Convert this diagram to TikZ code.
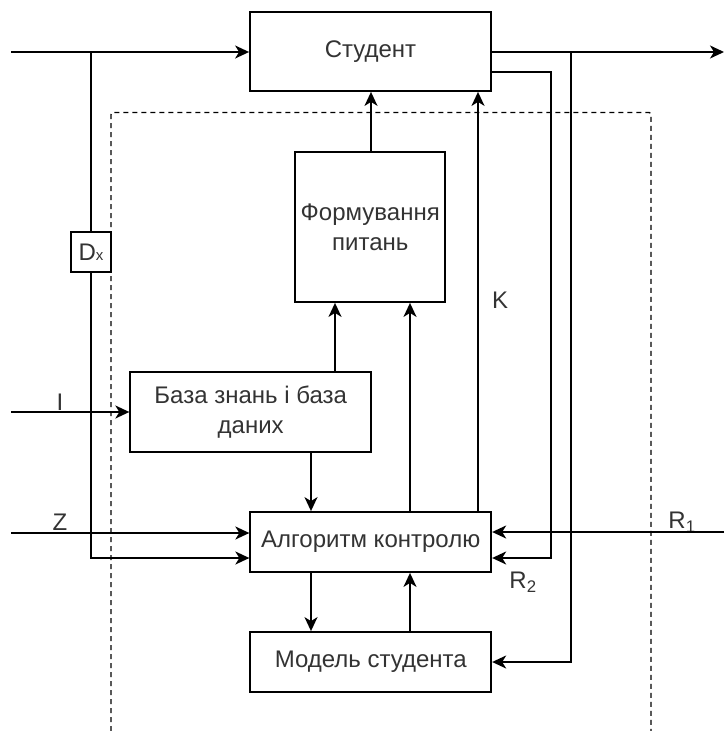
\documentclass[tikz,border=0pt]{standalone}
\usepackage{fontspec}
\setmainfont{Liberation Sans}
\usetikzlibrary{arrows.meta}
\begin{document}
\begin{tikzpicture}
  [x=1pt,y=-1pt,line width=1.8pt,>={Stealth[length=14pt,width=13pt,inset=4pt]},
   every node/.style={font=\fontsize{24}{30}\selectfont,text=black!80,inner sep=0pt},
   bloque/.style={draw=black,fill=white,line width=1.8pt,align=center,minimum width=241pt,minimum height=60pt}]

  \useasboundingbox (0,0) rectangle (724,731);

  % Contorno discontinuo del sistema
  \draw[line width=1.4pt,dash pattern=on 5pt off 4pt,rounded corners=2pt]
    (111,731) -- (111,112.5) -- (651,112.5) -- (651,731);

  % Bloques
  \node[bloque,minimum height=79pt] (est) at (370.5,51.5) {Студент};
  \node[bloque,minimum width=150pt,minimum height=150pt] (form) at (370.25,227) {Формування\\питань};
  \node[bloque,minimum height=80pt] (base) at (250.75,412) {База знань і база\\даних};
  \node[bloque] (alg) at (370.75,542) {Алгоритм контролю};
  \node[bloque] (mod) at (370.75,662) {Модель студента};
  \node[bloque,minimum width=40pt,minimum height=40pt] (dx) at (91,252) {D{\fontsize{15}{15}\selectfont x}};

  % Entradas, salidas y nudos
  \coordinate (inEst) at (11,52);
  \coordinate (outEst) at (724,52);
  \coordinate (nudo) at (91,52);
  \coordinate (nudoM) at (571,52);
  \coordinate (inI) at (11,412);
  \coordinate (inZ) at (11,533);
  \coordinate (inR) at (724,532);
  \coordinate (r2) at (551,72);
  \coordinate (yDx) at (0,558);

  % Etiquetas
  \node (li) at (60,402) {I};
  \node (lz) at (60,522) {Z};
  \node (lk) at (500,300) {K};
  \node (lr1) at (682,522) {R\textsubscript{1}};
  \node (lr2) at (523,582) {R\textsubscript{2}};

  % Flechas horizontales
  \draw[->] (inEst) -- (inEst -| est.west);
  \draw[->] (est.east |- outEst) -- (outEst);
  \draw[->] (inI) -- (inI -| base.west);
  \draw[->] (inZ) -- (inZ -| alg.west);
  \draw[->] (inR) -- (inR -| alg.east);

  % Lazos
  \draw (nudo) -- (dx.north);
  \draw[->] (dx.south) |- (alg.west |- yDx);
  \draw[->] (est.east |- r2) -- (r2) |- (alg.east |- yDx);
  \draw[->] (nudoM) |- (mod.east);

  % Flechas verticales
  \foreach \x/\de/\a in {371/form.north/est.south, 335/base.north/form.south,
      410/alg.north/form.south, 478/alg.north/est.south, 311/base.south/alg.north,
      311/alg.south/mod.north, 410/mod.north/alg.south}
    \draw[->] (\de -| \x,0) -- (\a -| \x,0);

\end{tikzpicture}
\end{document}
